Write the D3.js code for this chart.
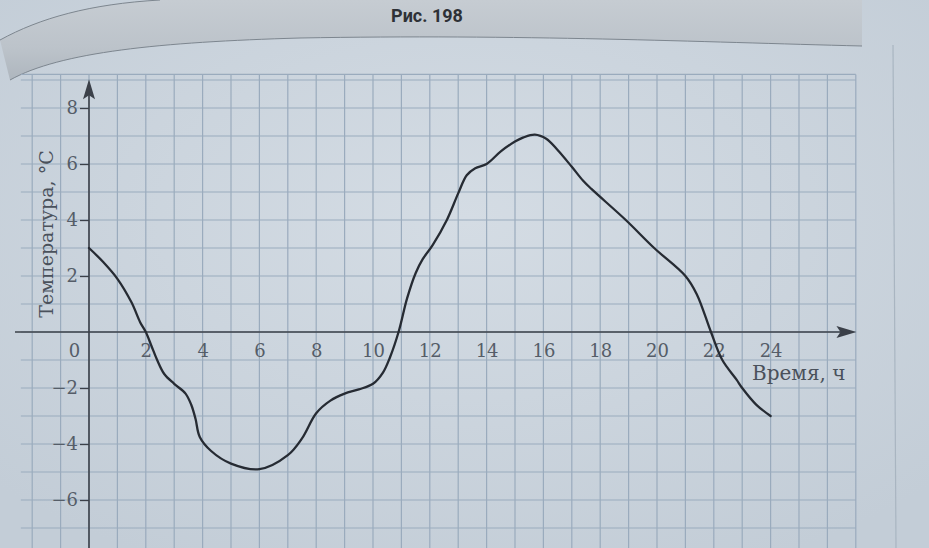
<!DOCTYPE html>
<html><head><meta charset="utf-8">
<script src="https://cdn.jsdelivr.net/npm/d3@7"></script>
<style>html,body{margin:0;padding:0;background:#c9d3dc;} svg{display:block}</style>
</head><body>
<svg id="chart" width="929" height="548"></svg>
<script>
// Data (hour of day, temperature °C)
const hours = [0,0.5,1,1.5,1.8,2,2.2,2.4,2.65,3,3.4,3.6,3.75,3.9,4.3,5,6,7,7.5,8,8.5,9,9.5,10,10.35,10.6,10.9,11.2,11.5,11.75,12.1,12.6,13,13.3,13.6,14,14.5,15,15.3,15.7,16.1,16.5,17,17.4,17.7,18.9,19.9,21,21.4,21.9,22.3,22.8,23,23.5,24];
const temps = [3,2.5,1.9,1.05,0.35,0,-0.5,-1.0,-1.5,-1.85,-2.2,-2.6,-3.1,-3.75,-4.25,-4.7,-4.9,-4.4,-3.8,-2.9,-2.45,-2.2,-2.05,-1.85,-1.45,-0.9,0,1.2,2.1,2.6,3.1,4.0,4.95,5.6,5.85,6.0,6.45,6.8,6.95,7.05,6.9,6.5,5.9,5.4,5.1,4.0,3.0,2.0,1.35,0,-1.0,-1.7,-2.0,-2.6,-3.0];
const xTickValues = [0,2,4,6,8,10,12,14,16,18,20,22,24];
const yTickValues = [-6,-4,-2,2,4,6,8];
const gridHours = d3.range(-2, 28);
const gridTemps = d3.range(-7, 10);
const figureTitle = "Рис. 198";
const xTitle = "Время, ч";
const yTitle = "Температура, °С";

const svg = d3.select("#chart");
const W = 929, H = 548;

const x = d3.scaleLinear().domain([0, 24]).range([89, 89 + 28.4 * 24]);
const y = d3.scaleLinear().domain([0, 8]).range([332, 332 - 28 * 8]);

const defs = svg.append("defs");
const bg = defs.append("radialGradient").attr("id","bgGrad").attr("cx","50%").attr("cy","40%").attr("r","70%");
bg.append("stop").attr("offset","0%").attr("stop-color","#d4dce4");
bg.append("stop").attr("offset","100%").attr("stop-color","#c3cdd7");
const band = defs.append("linearGradient").attr("id","bandGrad").attr("x1","0").attr("y1","0").attr("x2","0").attr("y2","1");
band.append("stop").attr("offset","0%").attr("stop-color","#c6ccd2");
band.append("stop").attr("offset","60%").attr("stop-color","#bcc3ca");
band.append("stop").attr("offset","100%").attr("stop-color","#aeb6be");

// page background
svg.append("rect").attr("width", W).attr("height", H).attr("fill", "url(#bgGrad)");
// right page margin line
svg.append("line").attr("x1",893).attr("x2",896).attr("y1",45).attr("y2",H)
  .attr("stroke","#a9b5c1").attr("stroke-width",1.2);

// header band
svg.append("path")
  .attr("d","M0,40 C40,18 90,4 160,0 L862,0 L862,46 C700,42 520,34 300,38 C160,42 60,52 10,80 Z")
  .attr("fill","url(#bandGrad)");
svg.append("path")
  .attr("d","M862,46 C700,42 520,34 300,38 C160,42 60,52 10,80")
  .attr("fill","none").attr("stroke","#7d868f").attr("stroke-width",1);
svg.append("path")
  .attr("d","M0,40 C40,18 90,4 160,0")
  .attr("fill","none").attr("stroke","#7d868f").attr("stroke-width",1);
svg.append("text").attr("x", 427).attr("y", 22).attr("text-anchor","middle")
  .attr("font-family","Roboto, 'Liberation Sans', sans-serif").attr("font-weight",700)
  .attr("font-size",18).attr("fill","#2e3136").text(figureTitle);

// grid
const gx0 = x(-2.4), gx1 = x(27), gy0 = y(9.2), gy1 = H;
const grid = svg.append("g").attr("stroke","#9aabbd").attr("stroke-width",1.2);
grid.selectAll("line.v").data(gridHours).join("line").attr("class","v")
  .attr("x1", d => x(d)).attr("x2", d => x(d)).attr("y1", gy0).attr("y2", gy1);
grid.selectAll("line.h").data(gridTemps).join("line").attr("class","h")
  .attr("x1", gx0).attr("x2", gx1).attr("y1", d => y(d)).attr("y2", d => y(d));
grid.append("line").attr("x1", gx0).attr("x2", gx1).attr("y1", gy0).attr("y2", gy0);

// axes
const axisColor = "#3b4049";
const fontSerif = "'DejaVu Serif', 'Liberation Serif', serif";
const yAxis = svg.append("g").attr("transform", `translate(${x(0)},0)`)
  .call(d3.axisLeft(y).tickValues(yTickValues).tickSize(9).tickPadding(2)
    .tickFormat(d => d < 0 ? "\u2212" + Math.abs(d) : d));
yAxis.select(".domain").remove();
yAxis.selectAll(".tick line").attr("stroke", axisColor).attr("stroke-width",1.3);
yAxis.selectAll(".tick text").attr("font-family", fontSerif).attr("font-size", 18)
  .attr("fill", "#555d68");

const xAxis = svg.append("g").attr("transform", `translate(0,${y(0)})`)
  .call(d3.axisBottom(x).tickValues(xTickValues).tickSize(0).tickPadding(12).tickFormat(d => d));
xAxis.select(".domain").remove();
xAxis.selectAll(".tick text").attr("font-family", fontSerif).attr("font-size", 18)
  .attr("fill", "#555d68")
  .attr("dx", d => d === 0 ? -15 : 0);

// axis lines with arrows
svg.append("line").attr("x1", 15).attr("x2", x(26.6)).attr("y1", y(0)).attr("y2", y(0))
  .attr("stroke", axisColor).attr("stroke-width", 1.6);
svg.append("path")
  .attr("d", `M${x(26.6)+12},${y(0)} L${x(26.6)-8},${y(0)-6} L${x(26.6)-4},${y(0)} L${x(26.6)-8},${y(0)+6} Z`)
  .attr("fill", axisColor);
svg.append("line").attr("x1", x(0)).attr("x2", x(0)).attr("y1", H).attr("y2", y(8.6))
  .attr("stroke", axisColor).attr("stroke-width", 1.6);
svg.append("path")
  .attr("d", `M${x(0)},${y(8.6)-12} L${x(0)-6},${y(8.6)+8} L${x(0)},${y(8.6)+4} L${x(0)+6},${y(8.6)+8} Z`)
  .attr("fill", axisColor);

// axis titles
svg.append("text").attr("x", 752).attr("y", y(-2) - 8)
  .attr("font-family", fontSerif).attr("font-size", 20).attr("fill", "#4a515b").text(xTitle);
svg.append("text").attr("transform", `translate(53,${y(3.5)}) rotate(-90)`)
  .attr("text-anchor","middle")
  .attr("font-family", fontSerif).attr("font-size", 19).attr("fill", "#4a515b").text(yTitle);

// temperature curve
const pts = hours.map((h, i) => [h, temps[i]]);
const line = d3.line().x(d => x(d[0])).y(d => y(d[1])).curve(d3.curveCatmullRom.alpha(0.5));
svg.append("path").datum(pts).attr("d", line)
  .attr("fill","none").attr("stroke","#262b33").attr("stroke-width",2.3)
  .attr("stroke-linejoin","round").attr("stroke-linecap","round");
</script>
</body></html>
